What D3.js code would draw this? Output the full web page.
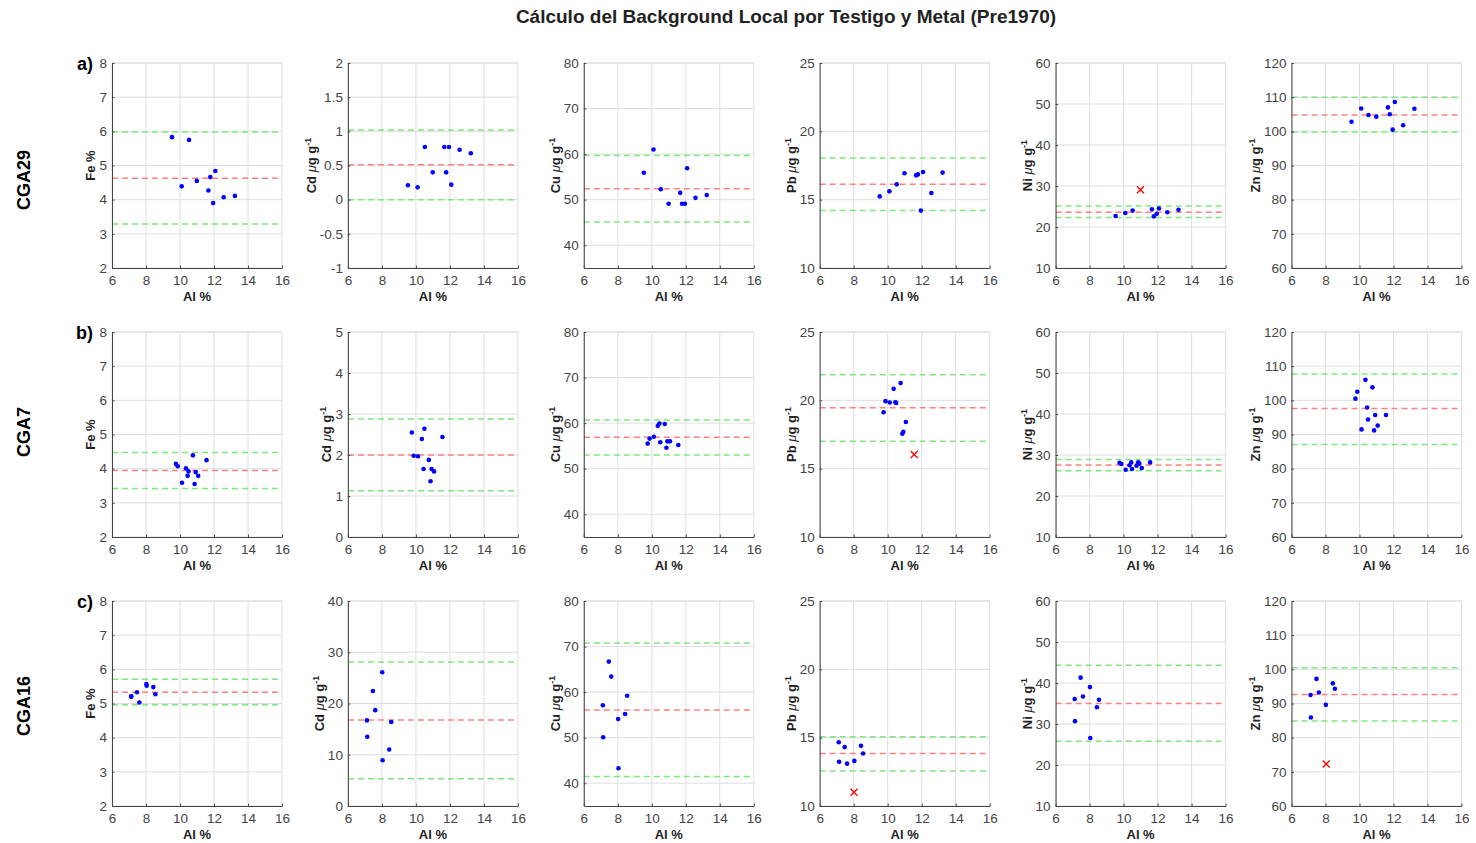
<!DOCTYPE html>
<html lang="es">
  <head>
    <meta charset="utf-8" />
    <title>Background Local Pre1970</title>
    <script src="https://d3js.org/d3.v7.min.js"></script>
    <style type="text/css">
      body { margin: 0; background: #fff; }
      svg { font-family: "Liberation Sans", Arial, Helvetica, sans-serif; }
    </style>
  </head>
  <body>
    <script type="text/javascript">
      // Cores, metals and axis setup
      const cores = ['CGA29', 'CGA7', 'CGA16'];
      const tags = ['a)', 'b)', 'c)'];
      const metals = ['Fe', 'Cd', 'Cu', 'Pb', 'Ni', 'Zn'];
      const xDomain = [6, 16];
      const xTicks = [6, 8, 10, 12, 14, 16];

      const yDomains29 = [[2, 8], [-1, 2], [35, 80], [10, 25], [10, 60], [60, 120]];
      const yDomains7 = [[2, 8], [0, 5], [35, 80], [10, 25], [10, 60], [60, 120]];
      const yDomains16 = [[2, 8], [0, 40], [35, 80], [10, 25], [10, 60], [60, 120]];
      const ySteps29 = [1, 0.5, 10, 5, 10, 10];
      const ySteps7 = [1, 1, 10, 5, 10, 10];
      const ySteps16 = [1, 10, 10, 5, 10, 10];

      // CGA29
      const al29 = [9.53, 10.1, 10.53, 10.99, 11.67, 11.78, 11.95, 12.08, 12.57, 13.23];
      const fe29 = [5.83, 4.39, 5.75, 4.55, 4.27, 4.66, 3.9, 4.84, 4.07, 4.11];
      const cd29 = [0.21, 0.18, 0.77, 0.4, 0.77, 0.4, 0.77, 0.22, 0.73, 0.68];
      const cu29 = [55.9, 61.0, 52.3, 49.1, 51.5, 49.1, 49.1, 56.9, 50.4, 51.0];
      const pb29 = [15.24, 15.61, 16.12, 16.93, 16.78, 16.85, 14.2, 17.02, 15.49, 16.98];
      const ni29 = [22.7, 23.4, 24.0, 29.1, 24.3, 22.6, 23.25, 24.5, 23.6, 24.2];
      const zn29 = [102.8, 106.7, 104.8, 104.3, 107.0, 105.0, 100.5, 108.6, 101.8, 106.6];
      const high29 = [5.98, 1.02, 59.7, 18.05, 25.1, 109.95];
      const mean29 = [4.63, 0.51, 52.4, 16.12, 23.6, 104.8];
      const low29 = [3.29, 0.0, 45.1, 14.2, 22.3, 99.8];
      const outliers29 = [[], [], [], [], [3], []];

      // CGA7
      const al7 = [9.76, 9.87, 10.12, 10.35, 10.45, 10.5, 10.76, 10.86, 10.92, 11.07, 11.56];
      const fe7 = [4.14, 4.07, 3.59, 4.01, 3.79, 3.92, 4.39, 3.55, 3.9, 3.79, 4.25];
      const cd7 = [2.55, 1.98, 1.97, 2.39, 1.66, 2.64, 1.88, 1.36, 1.66, 1.6, 2.44];
      const cu7 = [55.5, 56.6, 57.0, 59.4, 59.9, 55.8, 59.8, 54.6, 56.0, 56.0, 55.2];
      const pb7 = [19.13, 19.94, 19.84, 20.84, 19.86, 19.81, 21.26, 17.56, 17.7, 18.42, 16.04];
      const ni7 = [28.1, 27.8, 26.4, 27.5, 28.2, 26.6, 27.4, 28.2, 27.9, 26.8, 28.2];
      const zn7 = [100.5, 102.5, 91.5, 106.0, 97.9, 94.4, 103.8, 91.2, 95.7, 92.6, 95.7];
      const high7 = [4.47, 2.88, 60.7, 21.87, 28.9, 107.7];
      const mean7 = [3.95, 2.0, 56.9, 19.45, 27.55, 97.6];
      const low7 = [3.42, 1.13, 53.0, 17.0, 26.15, 87.1];
      const outliers7 = [[], [], [], [10], [], []];

      // CGA16
      const al16 = [7.12, 7.14, 7.47, 7.61, 8.02, 8.04, 8.43, 8.55];
      const fe16 = [5.2, 5.21, 5.33, 5.03, 5.57, 5.52, 5.48, 5.27];
      const cd16 = [16.7, 13.5, 22.45, 18.7, 26.1, 8.94, 11.03, 16.38];
      const cu16 = [57.1, 50.1, 66.7, 63.4, 54.1, 43.3, 55.2, 59.2];
      const pb16 = [14.67, 13.23, 14.31, 13.1, 11.0, 13.3, 14.4, 13.84];
      const ni16 = [36.1, 30.7, 41.3, 36.7, 39.0, 26.6, 34.1, 35.9];
      const zn16 = [92.5, 85.9, 97.2, 93.2, 89.6, 72.3, 95.9, 94.3];
      const high16 = [5.71, 28.1, 70.8, 15.07, 44.3, 100.5];
      const mean16 = [5.33, 16.8, 56.1, 13.84, 35.0, 92.6];
      const low16 = [4.96, 5.3, 41.5, 12.57, 25.8, 84.9];
      const outliers16 = [[], [], [], [4], [], [5]];

      const rows = [
        { al: al29, vals: [fe29, cd29, cu29, pb29, ni29, zn29], high: high29, mean: mean29, low: low29, out: outliers29, dom: yDomains29, step: ySteps29 },
        { al: al7, vals: [fe7, cd7, cu7, pb7, ni7, zn7], high: high7, mean: mean7, low: low7, out: outliers7, dom: yDomains7, step: ySteps7 },
        { al: al16, vals: [fe16, cd16, cu16, pb16, ni16, zn16], high: high16, mean: mean16, low: low16, out: outliers16, dom: yDomains16, step: ySteps16 },
      ];

      const w = 1476;
      const h = 843;
      const left0 = 112;
      const top0 = 63;
      const colStep = 235.9;
      const rowStep = 269;
      const pw = 170;
      const ph = 205;
      const rowLabelY = [180, 432, 706];

      const svg = d3
        .select('body')
        .append('svg')
        .attr('width', w)
        .attr('height', h);

      svg
        .append('text')
        .attr('x', 786)
        .attr('y', 23)
        .attr('text-anchor', 'middle')
        .style('font-size', '19px')
        .style('font-weight', 'bold')
        .attr('fill', '#222')
        .text('Cálculo del Background Local por Testigo y Metal (Pre1970)');

      rows.forEach((row, r) => {
        const y0 = top0 + r * rowStep;

        // Core name, rotated
        svg
          .append('text')
          .attr('transform', `translate(29.5, ${rowLabelY[r]}) rotate(-90)`)
          .attr('text-anchor', 'middle')
          .style('font-size', '18px')
          .style('font-weight', 'bold')
          .attr('fill', '#000')
          .text(cores[r]);

        svg
          .append('text')
          .attr('x', 93)
          .attr('y', y0 + 7)
          .attr('text-anchor', 'end')
          .style('font-size', '18px')
          .style('font-weight', 'bold')
          .attr('fill', '#000')
          .text(tags[r]);

        metals.forEach((metal, c) => {
          const x0 = left0 + c * colStep;
          const g = svg.append('g').attr('transform', `translate(${x0},${y0})`);
          const dom = row.dom[c];
          const yTicks = d3.range(Math.ceil(dom[0] / row.step[c]) * row.step[c], dom[1] + 1e-9, row.step[c]);

          const xScale = d3.scaleLinear().domain(xDomain).range([0, pw]);
          const yScale = d3.scaleLinear().domain(dom).range([ph, 0]);

          // Grid
          g.append('g')
            .selectAll('line')
            .data(xTicks)
            .enter()
            .append('line')
            .attr('x1', d => xScale(d))
            .attr('x2', d => xScale(d))
            .attr('y1', 0)
            .attr('y2', ph)
            .attr('stroke', '#dedede');
          g.append('g')
            .selectAll('line')
            .data(yTicks.concat([dom[1]]))
            .enter()
            .append('line')
            .attr('x1', 0)
            .attr('x2', pw)
            .attr('y1', d => yScale(d))
            .attr('y2', d => yScale(d))
            .attr('stroke', '#dedede');

          // Background lines
          const bg = [
            { v: row.high[c], col: '#7ee87e' },
            { v: row.mean[c], col: '#ff8080' },
            { v: row.low[c], col: '#7ee87e' },
          ];
          g.selectAll('.bg')
            .data(bg)
            .enter()
            .append('line')
            .attr('class', 'bg')
            .attr('x1', 0)
            .attr('x2', pw)
            .attr('y1', d => yScale(d.v))
            .attr('y2', d => yScale(d.v))
            .attr('stroke', d => d.col)
            .attr('stroke-width', 1.5)
            .attr('stroke-dasharray', '6,4');

          // Points
          const pts = row.al.map((a, i) => ({ a: a, v: row.vals[c][i], out: row.out[c].includes(i) }));
          g.selectAll('circle')
            .data(pts.filter(d => !d.out))
            .enter()
            .append('circle')
            .attr('cx', d => xScale(d.a))
            .attr('cy', d => yScale(d.v))
            .attr('r', 2.3)
            .attr('fill', '#0000ff');
          g.selectAll('.out')
            .data(pts.filter(d => d.out))
            .enter()
            .append('path')
            .attr('class', 'out')
            .attr('transform', d => `translate(${xScale(d.a)},${yScale(d.v)})`)
            .attr('d', 'M-3.5,-3.5L3.5,3.5M-3.5,3.5L3.5,-3.5')
            .attr('stroke', '#ff0000')
            .attr('stroke-width', 1.3)
            .attr('fill', 'none');

          // Axes
          const xAxis = d3.axisBottom(xScale).tickValues(xTicks).tickSizeInner(-2.5).tickSizeOuter(0).tickPadding(7);
          const yAxis = d3
            .axisLeft(yScale)
            .tickValues(yTicks)
            .tickSizeInner(-2.5)
            .tickSizeOuter(0)
            .tickPadding(5)
            .tickFormat(d => String(+d.toFixed(2)));

          const gx = g.append('g').attr('transform', `translate(0,${ph})`).call(xAxis);
          const gy = g.append('g').call(yAxis);
          [gx, gy].forEach(a => {
            a.select('.domain').attr('stroke', '#444');
            a.selectAll('.tick line').attr('stroke', '#444');
            a.selectAll('text').attr('fill', '#444').style('font-size', '13.5px');
          });

          g.append('text')
            .attr('x', pw / 2)
            .attr('y', ph + 33)
            .attr('text-anchor', 'middle')
            .style('font-size', '13px')
            .style('font-weight', 'bold')
            .attr('fill', '#222')
            .text('Al %');

          const bb = gy.node().getBBox();
          const cx = bb.x - 9;
          const lab = g
            .append('text')
            .attr('transform', `translate(${cx + 5},${ph / 2}) rotate(-90)`)
            .attr('text-anchor', 'middle')
            .style('font-size', '13px')
            .style('font-weight', 'bold')
            .attr('fill', '#222');
          if (metal === 'Fe') {
            lab.text('Fe %');
          } else {
            lab.append('tspan').text(metal + ' ');
            lab.append('tspan').style('font-style', 'italic').style('font-weight', 'normal').text('μ');
            lab.append('tspan').text('g g');
            lab.append('tspan').attr('dy', -5).style('font-size', '9px').text('-1');
          }
        });
      });
    </script>
  </body>
</html>
